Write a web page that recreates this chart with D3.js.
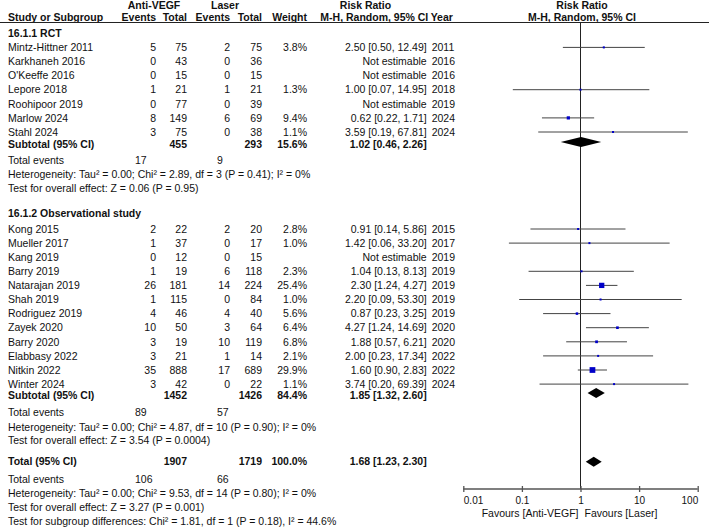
<!DOCTYPE html>
<html><head><meta charset="utf-8">
<script src="https://cdn.jsdelivr.net/npm/d3@7"></script>
<style>
body{margin:0;background:#fff;}
svg text{font-family:"Liberation Sans",Arial,sans-serif;font-size:10.5px;fill:#111;}
</style></head>
<body><svg id="c" width="709" height="528"></svg>
<script>
// ---- data ----
const rctStudies = ["Mintz-Hittner 2011","Karkhaneh 2016","O'Keeffe 2016","Lepore 2018","Roohipoor 2019","Marlow 2024","Stahl 2024"];
const rctEventsA = [5,0,0,1,0,8,3];
const rctTotalA  = [75,43,15,21,77,149,75];
const rctEventsL = [2,0,0,1,0,6,0];
const rctTotalL  = [75,36,15,21,39,69,38];
const rctWeight  = [3.8,null,null,1.3,null,9.4,1.1];
const rctRR      = [2.50,null,null,1.00,null,0.62,3.59];
const rctLo      = [0.50,null,null,0.07,null,0.22,0.19];
const rctHi      = [12.49,null,null,14.95,null,1.71,67.81];
const rctYear    = [2011,2016,2016,2018,2019,2024,2024];

const obsStudies = ["Kong 2015","Mueller 2017","Kang 2019","Barry 2019","Natarajan 2019","Shah 2019","Rodriguez 2019","Zayek 2020","Barry 2020","Elabbasy 2022","Nitkin 2022","Winter 2024"];
const obsEventsA = [2,1,0,1,26,1,4,10,3,3,35,3];
const obsTotalA  = [22,37,12,19,181,115,46,50,19,21,888,42];
const obsEventsL = [2,0,0,6,14,0,4,3,10,1,17,0];
const obsTotalL  = [20,17,15,118,224,84,40,64,119,14,689,22];
const obsWeight  = [2.8,1.0,null,2.3,25.4,1.0,5.6,6.4,6.8,2.1,29.9,1.1];
const obsRR      = [0.91,1.42,null,1.04,2.30,2.20,0.87,4.27,1.88,2.00,1.60,3.74];
const obsLo      = [0.14,0.06,null,0.13,1.24,0.09,0.23,1.24,0.57,0.23,0.90,0.20];
const obsHi      = [5.86,33.20,null,8.13,4.27,53.30,3.25,14.69,6.21,17.34,2.83,69.39];
const obsYear    = [2015,2017,2019,2019,2019,2019,2019,2020,2020,2022,2022,2024];

const groupTitles   = ["16.1.1 RCT","16.1.2 Observational study"];
const pooledLabels  = ["Subtotal (95% CI)","Subtotal (95% CI)","Total (95% CI)"];
const pooledTotalA  = [455,1452,1907];
const pooledTotalL  = [293,1426,1719];
const pooledWeight  = ["15.6%","84.4%","100.0%"];
const pooledRR      = [1.02,1.85,1.68];
const pooledLo      = [0.46,1.32,1.23];
const pooledHi      = [2.26,2.60,2.30];
const pooledEventsA = [17,89,106];
const pooledEventsL = [9,57,66];
const heterogeneity = [
  "Heterogeneity: Tau\u00b2 = 0.00; Chi\u00b2 = 2.89, df = 3 (P = 0.41); I\u00b2 = 0%",
  "Heterogeneity: Tau\u00b2 = 0.00; Chi\u00b2 = 4.87, df = 10 (P = 0.90); I\u00b2 = 0%",
  "Heterogeneity: Tau\u00b2 = 0.00; Chi\u00b2 = 9.53, df = 14 (P = 0.80); I\u00b2 = 0%"];
const overallTests = [
  "Test for overall effect: Z = 0.06 (P = 0.95)",
  "Test for overall effect: Z = 3.54 (P = 0.0004)",
  "Test for overall effect: Z = 3.27 (P = 0.001)"];
const subgroupTest = "Test for subgroup differences: Chi\u00b2 = 1.81, df = 1 (P = 0.18), I\u00b2 = 44.6%";
const axisTicks = [0.01,0.1,1,10,100];
const favourLeft = "Favours [Anti-VEGF]";
const favourRight = "Favours [Laser]";

// ---- layout ----
const svg = d3.select("#c");
const x = d3.scaleLog().domain([0.01,100]).range([463.3,697.7]);
const col = {name:8, evA:156, totA:187, evL:230, totL:262, w:307, ci:426.7, yr:431.7, totEvA:135, totEvL:217};
const f2 = d3.format(".2f");
const ciText = (r,l,h)=> `${f2(r)} [${f2(l)}, ${f2(h)}]`;

function txt(xp,yp,s,anchor,bold){
  svg.append("text").attr("x",xp).attr("y",yp).attr("dy","0.36em")
    .attr("text-anchor",anchor||"start").attr("font-weight",bold?"bold":null).text(s);
}

// header
txt(154,5.5,"Anti-VEGF","middle",true);
txt(225,5.5,"Laser","middle",true);
txt(365.5,5.5,"Risk Ratio","middle",true);
txt(582,5.5,"Risk Ratio","middle",true);
const hy=17.5;
txt(col.name,hy,"Study or Subgroup","start",true);
txt(col.evA,hy,"Events","end",true);
txt(col.totA,hy,"Total","end",true);
txt(col.evL,hy,"Events","end",true);
txt(col.totL,hy,"Total","end",true);
txt(col.w,hy,"Weight","end",true);
txt(428.3,hy,"M-H, Random, 95% CI","end",true);
txt(col.yr-1,hy,"Year","start",true);
txt(582,hy,"M-H, Random, 95% CI","middle",true);
svg.append("line").attr("x1",0).attr("x2",709).attr("y1",22.5).attr("y2",22.5)
  .attr("stroke","#222").attr("stroke-width",1);

// vertical line of no effect
svg.append("line").attr("x1",x(1)).attr("x2",x(1)).attr("y1",22.5).attr("y2",489)
  .attr("stroke","#222").attr("stroke-width",1);

const groups = [
  {names:rctStudies,evA:rctEventsA,totA:rctTotalA,evL:rctEventsL,totL:rctTotalL,w:rctWeight,rr:rctRR,lo:rctLo,hi:rctHi,yr:rctYear,
   titleY:33, firstY:47.4, sumY:144.5, diaY:142, evY:160, hetY:174.3, testY:188.3},
  {names:obsStudies,evA:obsEventsA,totA:obsTotalA,evL:obsEventsL,totL:obsTotalL,w:obsWeight,rr:obsRR,lo:obsLo,hi:obsHi,yr:obsYear,
   titleY:213.5, firstY:229, sumY:395, diaY:393, evY:412.5, hetY:427, testY:440.5}
];
const step = 14.1;

function diamond(i,yc){
  const h=5;
  const pts=[[x(pooledLo[i]),yc],[x(pooledRR[i]),yc-h],[x(pooledHi[i]),yc],[x(pooledRR[i]),yc+h]];
  svg.append("path").attr("d","M"+pts.map(p=>p.join(",")).join("L")+"Z").attr("fill","#000");
}

groups.forEach((g,gi)=>{
  txt(col.name,g.titleY,groupTitles[gi],"start",true);
  g.names.forEach((n,i)=>{
    const yc = g.firstY + i*step;
    txt(col.name,yc,n);
    txt(col.evA,yc,g.evA[i],"end");
    txt(col.totA,yc,g.totA[i],"end");
    txt(col.evL,yc,g.evL[i],"end");
    txt(col.totL,yc,g.totL[i],"end");
    if(g.w[i]!=null) txt(col.w,yc,g.w[i].toFixed(1)+"%","end");
    txt(col.ci,yc,g.rr[i]!=null?ciText(g.rr[i],g.lo[i],g.hi[i]):"Not estimable","end");
    txt(col.yr,yc,g.yr[i],"start");
    if(g.rr[i]!=null){
      svg.append("line").attr("x1",x(g.lo[i])).attr("x2",x(g.hi[i])).attr("y1",yc).attr("y2",yc)
        .attr("stroke","#444").attr("stroke-width",1);
      const s = Math.max(2, 1.05*Math.sqrt(g.w[i]));
      svg.append("rect").attr("x",x(g.rr[i])-s/2).attr("y",yc-s/2).attr("width",s).attr("height",s)
        .attr("fill","#0000c8");
    }
  });
  txt(col.name,g.sumY,pooledLabels[gi],"start",true);
  txt(col.totA,g.sumY,pooledTotalA[gi],"end",true);
  txt(col.totL,g.sumY,pooledTotalL[gi],"end",true);
  txt(col.w,g.sumY,pooledWeight[gi],"end",true);
  txt(col.ci,g.sumY,ciText(pooledRR[gi],pooledLo[gi],pooledHi[gi]),"end",true);
  diamond(gi,g.diaY);
  txt(col.name,g.evY,"Total events");
  txt(col.totEvA,g.evY,pooledEventsA[gi]);
  txt(col.totEvL,g.evY,pooledEventsL[gi]);
  txt(col.name,g.hetY,heterogeneity[gi]);
  txt(col.name,g.testY,overallTests[gi]);
});

// overall
const tY=461.7;
txt(col.name,tY,pooledLabels[2],"start",true);
txt(col.totA,tY,pooledTotalA[2],"end",true);
txt(col.totL,tY,pooledTotalL[2],"end",true);
txt(col.w,tY,pooledWeight[2],"end",true);
txt(col.ci,tY,ciText(pooledRR[2],pooledLo[2],pooledHi[2]),"end",true);
diamond(2,tY);
txt(col.name,479,"Total events");
txt(col.totEvA,479,pooledEventsA[2]);
txt(col.totEvL,479,pooledEventsL[2]);
txt(col.name,493,heterogeneity[2]);
txt(col.name,507,overallTests[2]);
txt(col.name,521.5,subgroupTest);

// axis
const axG = svg.append("g").attr("transform","translate(0,486)")
  .call(d3.axisBottom(x).tickValues(axisTicks).tickFormat(d=>String(d)).tickSize(6).tickPadding(5));
axG.select(".domain").remove();
axG.selectAll(".tick line").attr("stroke","#555").attr("stroke-width",1.3);
axG.selectAll(".tick text").style("font-size","10px").attr("fill","#111")
  .attr("text-anchor",(d,i)=> i===0?"start":(i===axisTicks.length-1?"end":"middle"))
  .style("font-family","\"Liberation Sans\",Arial,sans-serif");
svg.append("line").attr("x1",x(0.01)).attr("x2",x(100)).attr("y1",489).attr("y2",489)
  .attr("stroke","#555").attr("stroke-width",1.3);
txt(x(1)-2,513.5,favourLeft,"end");
txt(x(1)+4,513.5,favourRight,"start");
</script></body></html>
